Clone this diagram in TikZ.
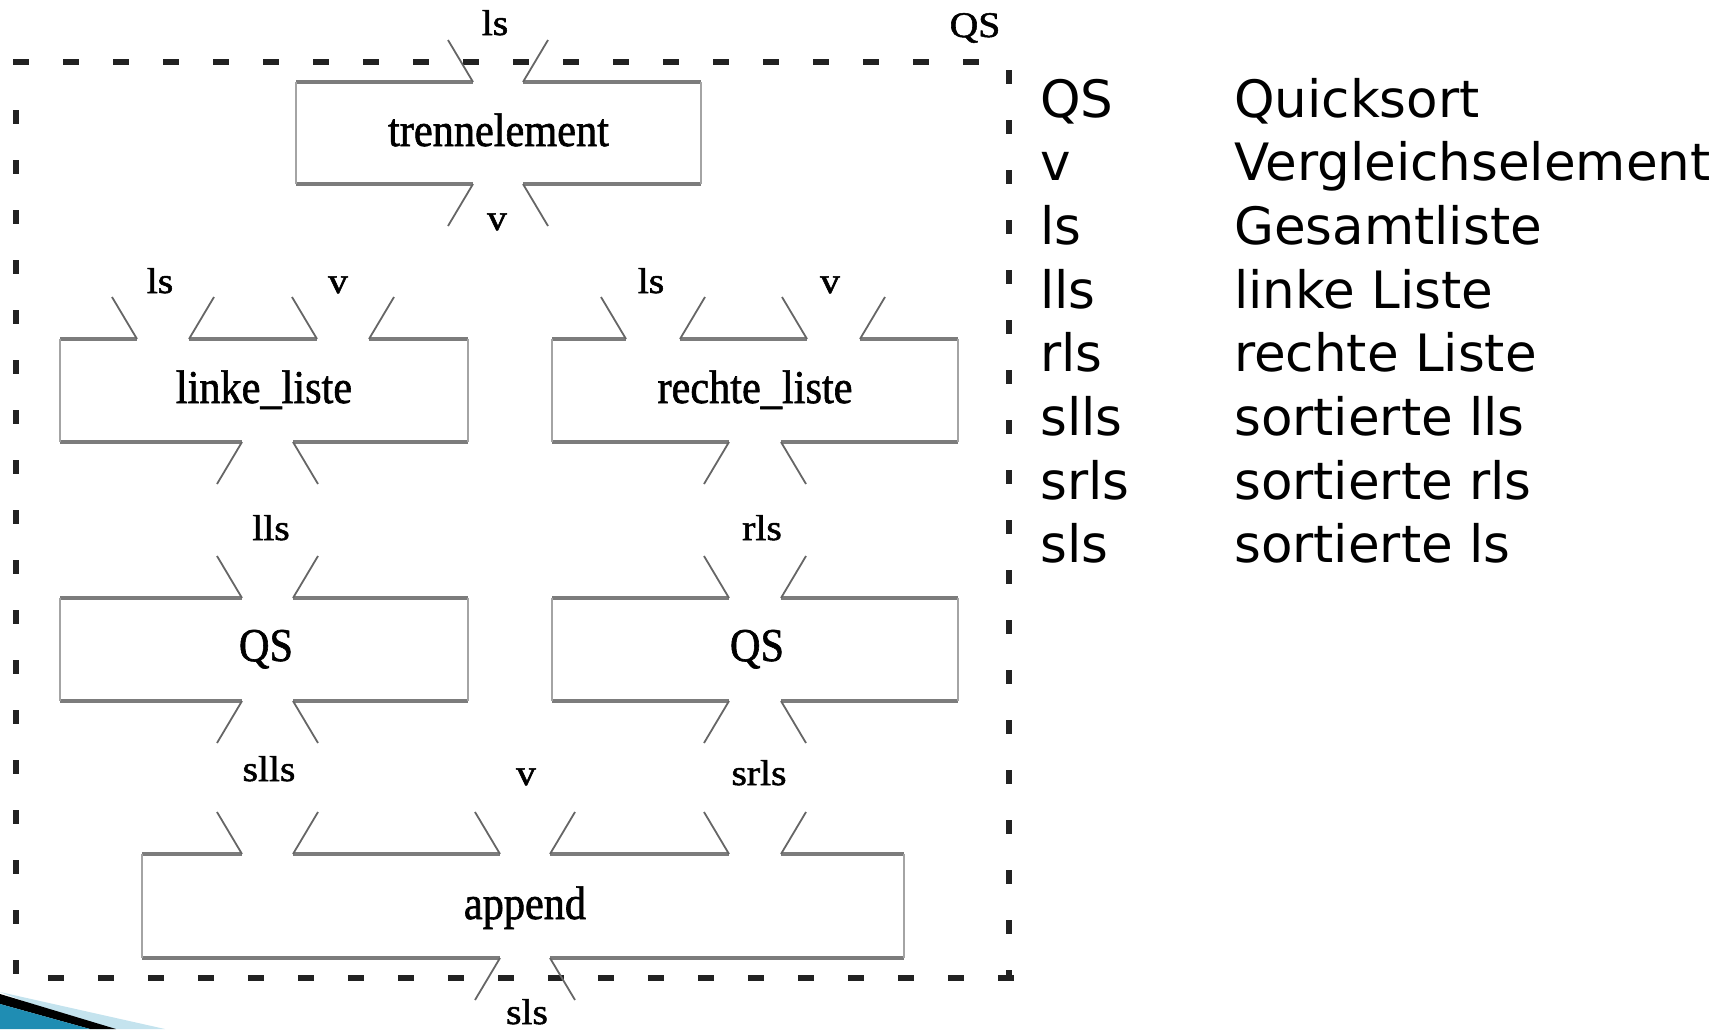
\documentclass[tikz,border=0pt]{standalone}
\usepackage{fontspec}
\setmainfont{Liberation Serif}
\newfontfamily\diagserif[FakeBold=1.4]{Liberation Serif}
\newfontfamily\legsans{DejaVu Sans}
\usetikzlibrary{calc}

\definecolor{boxgray}{HTML}{7C7C7C}
\definecolor{boxlight}{HTML}{A4A4A4}
\definecolor{wiregray}{HTML}{666666}
\definecolor{framecol}{HTML}{222222}
\definecolor{slideteal}{HTML}{1F8DB3}
\definecolor{slidehaze}{HTML}{C4E3EE}

% condensed box captions and slightly wide port labels
\newcommand{\boxcap}[1]{\scalebox{0.9}[1]{\diagserif\fontsize{47}{52}\selectfont #1}}
\newcommand{\portlbl}[1]{\scalebox{1.1}[1]{\diagserif\fontsize{36}{40}\selectfont #1}}

% two stubs of a port: going up (above a box) or down (below a box)
\newcommand{\portup}[3]{%
  \draw[wire] (#1,#3) -- ++(-25,-42);
  \draw[wire] (#2,#3) -- ++(25,-42);}
\newcommand{\portdown}[3]{%
  \draw[wire] (#1,#3) -- ++(-25,42);
  \draw[wire] (#2,#3) -- ++(25,42);}

\tikzset{
  hedge/.style={draw=boxgray, line width=4pt},
  vedge/.style={draw=boxlight, line width=2pt},
  wire/.style={draw=wiregray, line width=1.8pt},
  boxtext/.style={anchor=base, inner sep=0pt},
  lbl/.style={anchor=base, inner sep=0pt},
  legend/.style={anchor=base west, inner sep=0pt, font=\legsans\fontsize{51.5}{58}\selectfont},
  framehor/.style={draw=framecol, line width=6pt, dash pattern=on 16pt off 34pt},
  framever/.style={draw=framecol, line width=6pt, dash pattern=on 14pt off 36pt},
}

\begin{document}
\begin{tikzpicture}[x=1pt, y=-1pt]
\useasboundingbox (0,0) rectangle (1726,1029);

% ---- dashed frame of the QS procedure
\draw[framehor] (13,62) -- (1012,62);
\draw[framehor] (48,978) -- (1014,978);
\draw[framever] (16,110) -- (16,980);
\draw[framever] (1009,70) -- (1009,980);
\node[lbl] (qsframe) at (975,37) {\portlbl{QS}};

% ---- trennelement
\draw[hedge] (296,82) -- (473,82) (523,82) -- (701,82);
\draw[hedge] (296,184) -- (473,184) (523,184) -- (701,184);
\draw[vedge] (296,82) -- (296,184) (701,82) -- (701,184);
\node[boxtext] (trenn) at (498.5,146) {\boxcap{trennelement}};
\portup{473}{523}{82}
\portdown{473}{523}{184}
\node[lbl] (ls0) at (495,35) {\portlbl{ls}};
\node[lbl] (v0) at (497,230) {\portlbl{v}};

% ---- linke_liste
\draw[hedge] (60,339) -- (137,339) (189,339) -- (317,339) (369,339) -- (468,339);
\draw[hedge] (60,442) -- (242,442) (293,442) -- (468,442);
\draw[vedge] (60,339) -- (60,442) (468,339) -- (468,442);
\node[boxtext] (linke) at (264,403) {\boxcap{linke\_liste}};
\portup{137}{189}{339}
\portup{317}{369}{339}
\portdown{242}{293}{442}
\node[lbl] (ls1) at (160,293) {\portlbl{ls}};
\node[lbl] (v1) at (338,293) {\portlbl{v}};
\node[lbl] (lls) at (271,540) {\portlbl{lls}};

% ---- rechte_liste
\draw[hedge] (552,339) -- (626,339) (680,339) -- (807,339) (860,339) -- (958,339);
\draw[hedge] (552,442) -- (729,442) (781,442) -- (958,442);
\draw[vedge] (552,339) -- (552,442) (958,339) -- (958,442);
\node[boxtext] (rechte) at (755,403) {\boxcap{rechte\_liste}};
\portup{626}{680}{339}
\portup{807}{860}{339}
\portdown{729}{781}{442}
\node[lbl] (ls2) at (651,293) {\portlbl{ls}};
\node[lbl] (v2) at (830,293) {\portlbl{v}};
\node[lbl] (rls) at (762,540) {\portlbl{rls}};

% ---- QS (left)
\draw[hedge] (60,598) -- (242,598) (293,598) -- (468,598);
\draw[hedge] (60,701) -- (242,701) (293,701) -- (468,701);
\draw[vedge] (60,598) -- (60,701) (468,598) -- (468,701);
\node[boxtext] (qsl) at (266,661) {\boxcap{QS}};
\portup{242}{293}{598}
\portdown{242}{293}{701}
\node[lbl] (slls) at (269,781) {\portlbl{slls}};

% ---- QS (right)
\draw[hedge] (552,598) -- (729,598) (781,598) -- (958,598);
\draw[hedge] (552,701) -- (729,701) (781,701) -- (958,701);
\draw[vedge] (552,598) -- (552,701) (958,598) -- (958,701);
\node[boxtext] (qsr) at (757,661) {\boxcap{QS}};
\portup{729}{781}{598}
\portdown{729}{781}{701}
\node[lbl] (srls) at (759,785) {\portlbl{srls}};

% ---- append
\draw[hedge] (142,854) -- (242,854) (293,854) -- (500,854) (550,854) -- (729,854) (781,854) -- (904,854);
\draw[hedge] (142,958) -- (500,958) (550,958) -- (904,958);
\draw[vedge] (142,854) -- (142,958) (904,854) -- (904,958);
\node[boxtext] (append) at (525,919) {\boxcap{append}};
\portup{242}{293}{854}
\portup{500}{550}{854}
\portup{729}{781}{854}
\portdown{500}{550}{958}
\node[lbl] (v3) at (526,785) {\portlbl{v}};
\node[lbl] (sls) at (527,1024) {\portlbl{sls}};

% ---- legend
\foreach \k/\abbr/\full in {0/QS/Quicksort, 1/v/Vergleichselement, 2/ls/Gesamtliste,
    3/lls/linke Liste, 4/rls/rechte Liste, 5/slls/sortierte lls,
    6/srls/sortierte rls, 7/sls/sortierte ls}{
  \node[legend] (abbr\k) at (1040,117+63.7*\k) {\abbr};
  \node[legend] (full\k) at (1234,117+63.7*\k) {\full};
}

% ---- slide ornament in the lower left corner
\fill[slidehaze] (0,992) -- (165,1029) -- (96,1029) -- cycle;
\fill[black] (0,994) -- (116,1029) -- (90,1029) -- (0,1004) -- cycle;
\fill[slideteal] (0,1004) -- (90,1029) -- (0,1029) -- cycle;
\end{tikzpicture}
\end{document}
